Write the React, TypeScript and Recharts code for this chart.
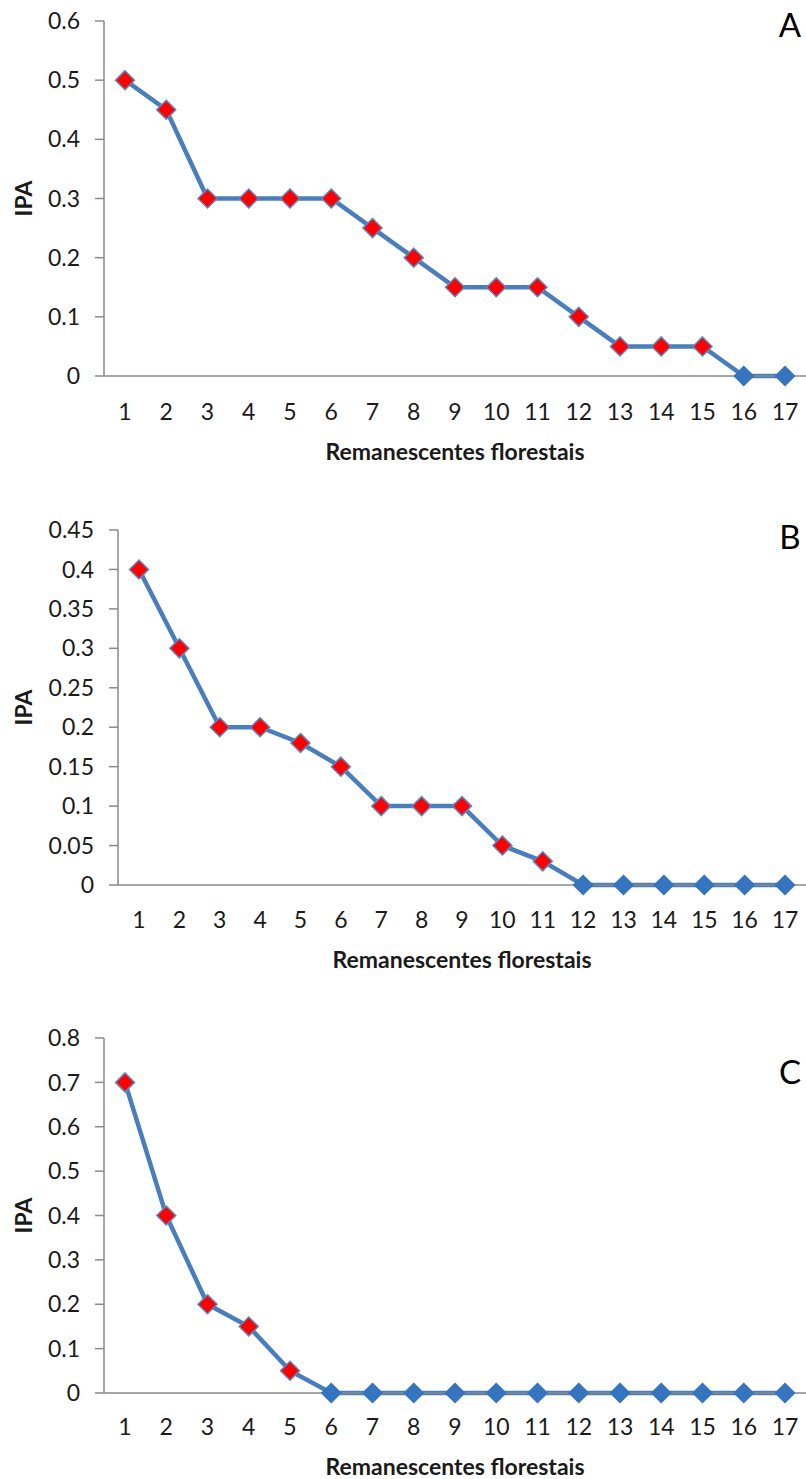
import React from 'react';
import { LineChart, Line, XAxis, YAxis } from 'recharts';

// remanescentes florestais (1..17)
const remnants = ['1', '2', '3', '4', '5', '6', '7', '8', '9', '10', '11', '12', '13', '14', '15', '16', '17'];

const ipaA = [0.5, 0.45, 0.3, 0.3, 0.3, 0.3, 0.25, 0.2, 0.15, 0.15, 0.15, 0.1, 0.05, 0.05, 0.05, 0, 0];
const ipaB = [0.4, 0.3, 0.2, 0.2, 0.18, 0.15, 0.1, 0.1, 0.1, 0.05, 0.03, 0, 0, 0, 0, 0, 0];
const ipaC = [0.7, 0.4, 0.2, 0.15, 0.05, 0, 0, 0, 0, 0, 0, 0, 0, 0, 0, 0, 0];

const ticksA = [0, 0.1, 0.2, 0.3, 0.4, 0.5, 0.6];
const ticksB = [0, 0.05, 0.1, 0.15, 0.2, 0.25, 0.3, 0.35, 0.4, 0.45];
const ticksC = [0, 0.1, 0.2, 0.3, 0.4, 0.5, 0.6, 0.7, 0.8];

const FONT = 'Lato, sans-serif';
const LINE = '#4a7ebb';
const AXIS = '#8a8a8a';

function Diamond(props: any) {
  const { cx, cy, value, index } = props;
  if (cx == null || cy == null) return null;
  const r = 9.5;
  const zero = value === 0;
  const pts = `${cx},${cy - r} ${cx + r},${cy} ${cx},${cy + r} ${cx - r},${cy}`;
  return (
    <polygon
      key={`d-${index}`}
      points={pts}
      fill={zero ? '#3574bf' : '#ff0000'}
      stroke={zero ? '#3574bf' : '#5a88c4'}
      strokeWidth={1.5}
    />
  );
}

type PanelProps = {
  top: number;
  height: number;
  plotTop: number;
  xAxisHeight: number;
  yWidth: number;
  values: number[];
  ticks: number[];
  tickGap: number;
  titleGap: number;
};

function Panel(p: PanelProps) {
  const data = remnants.map((r, i) => ({ site: r, ipa: p.values[i] }));
  const max = p.ticks[p.ticks.length - 1];
  return (
    <div style={{ position: 'absolute', left: 0, top: p.top }}>
      <LineChart
        width={806}
        height={p.height}
        data={data}
        margin={{ top: p.plotTop, right: 0, bottom: 0, left: 0 }}
        style={{ fontFamily: FONT }}
      >
        <XAxis
          dataKey="site"
          height={p.xAxisHeight}
          padding={{ left: 21, right: 21 }}
          axisLine={{ stroke: AXIS, strokeWidth: 1.5 }}
          tickLine={false}
          tickSize={0}
          tickMargin={p.tickGap}
          interval={0}
          tick={{ fill: '#1a1a1a', fontSize: 23, fontFamily: FONT }}
          label={{
            value: 'Remanescentes florestais',
            position: 'insideTop',
            offset: p.titleGap,
            style: { fill: '#1a1a1a', fontSize: 23, fontWeight: 700, fontFamily: FONT },
          }}
        />
        <YAxis
          width={p.yWidth}
          domain={[0, max]}
          ticks={p.ticks}
          interval={0}
          axisLine={{ stroke: AXIS, strokeWidth: 1.5 }}
          tickLine={{ stroke: AXIS, strokeWidth: 1.5 }}
          tickSize={9}
          tickMargin={15}
          tick={{ fill: '#1a1a1a', fontSize: 23, fontFamily: FONT }}
          label={{
            value: 'IPA',
            angle: -90,
            position: 'insideLeft',
            offset: 24,
            style: { textAnchor: 'middle', fill: '#1a1a1a', fontSize: 23, fontWeight: 700, fontFamily: FONT },
          }}
        />
        <Line
          type="linear"
          dataKey="ipa"
          stroke={LINE}
          strokeWidth={4.5}
          dot={Diamond}
          activeDot={false}
          isAnimationActive={false}
        />
      </LineChart>
    </div>
  );
}

export default function App() {
  return (
    <div style={{ position: 'absolute', left: 0, top: 0, width: 806, height: 1479, background: '#fff' }}>
      <Panel top={0} height={470} plotTop={21} xAxisHeight={94} yWidth={104} values={ipaA} ticks={ticksA} tickGap={28} titleGap={68} />
      <Panel top={500} height={480} plotTop={30} xAxisHeight={95} yWidth={118} values={ipaB} ticks={ticksB} tickGap={27} titleGap={67} />
      <Panel top={1010} height={469} plotTop={28} xAxisHeight={86} yWidth={104} values={ipaC} ticks={ticksC} tickGap={26} titleGap={66} />
      <svg width={806} height={1479} style={{ position: 'absolute', left: 0, top: 0, pointerEvents: 'none' }}>
        <text x={790} y={37} textAnchor="middle" fontSize={33} fontFamily={FONT} fill="#000">A</text>
        <text x={790} y={549} textAnchor="middle" fontSize={33} fontFamily={FONT} fill="#000">B</text>
        <text x={790} y={1084} textAnchor="middle" fontSize={33} fontFamily={FONT} fill="#000">C</text>
      </svg>
    </div>
  );
}
